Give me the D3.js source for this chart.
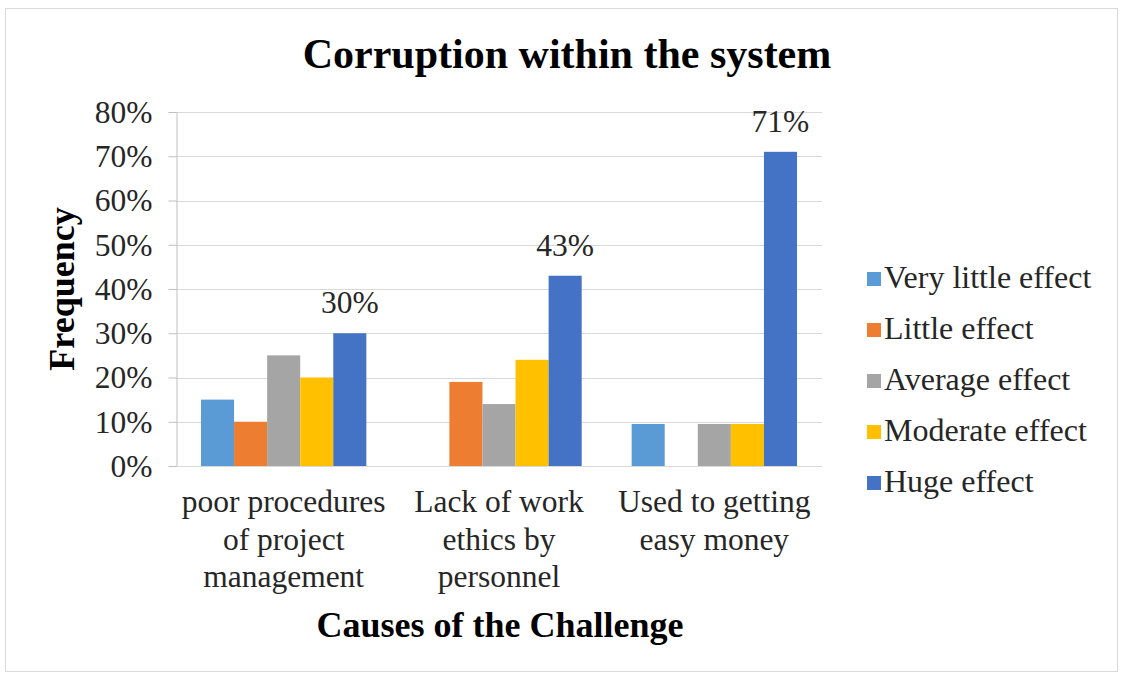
<!DOCTYPE html>
<html>
<head>
<meta charset="utf-8">
<script src="https://cdn.jsdelivr.net/npm/d3@7"></script>
<style>
  html, body { margin: 0; padding: 0; background: #fff; }
  svg { display: block; }
  text { font-family: "Liberation Serif", "Times New Roman", serif; }
</style>
</head>
<body>
<svg id="chart" width="1121" height="677"></svg>
<script>
// Causes along the x axis (each label split into its wrapped lines)
const categories = [
  "poor procedures of project management",
  "Lack of work ethics by personnel",
  "Used to getting easy money"
];
const categoryLines = [
  ["poor procedures", "of project", "management"],
  ["Lack of work", "ethics by", "personnel"],
  ["Used to getting", "easy money"]
];

// Effect levels (legend order)
const seriesNames = ["Very little effect", "Little effect", "Average effect", "Moderate effect", "Huge effect"];
const seriesColors = ["#5B9BD5", "#ED7D31", "#A5A5A5", "#FFC000", "#4472C4"];

// Share of responses per effect level, one array per level, in category order
const veryLittle = [0.15, 0.00, 0.095];
const little     = [0.10, 0.19, 0.00];
const average    = [0.25, 0.14, 0.095];
const moderate   = [0.20, 0.24, 0.095];
const huge       = [0.30, 0.43, 0.71];
const seriesValues = [veryLittle, little, average, moderate, huge];

// Only the "Huge effect" bars carry a value label
const labelledSeries = "Huge effect";

const yTicks = [0, 0.1, 0.2, 0.3, 0.4, 0.5, 0.6, 0.7, 0.8];

const svg = d3.select("#chart");
const W = 1121, H = 677;
const FS = 31.5; // body text size

// Chart frame
svg.append("rect")
  .attr("x", 5.5).attr("y", 8.5)
  .attr("width", W - 9).attr("height", H - 14)
  .attr("fill", "#fff")
  .attr("stroke", "#d9d9d9").attr("stroke-width", 1);

const plot = { left: 176, right: 822, top: 112, bottom: 466 };

const x0 = d3.scaleBand()
  .domain(categories)
  .range([plot.left, plot.right])
  .paddingInner(0.232)
  .paddingOuter(0.116);

const x1 = d3.scaleBand()
  .domain(seriesNames)
  .range([0, x0.bandwidth()])
  .padding(0);

const y = d3.scaleLinear()
  .domain([0, 0.8])
  .range([plot.bottom, plot.top]);

const color = d3.scaleOrdinal().domain(seriesNames).range(seriesColors);

// Horizontal gridlines
svg.append("g")
  .selectAll("line")
  .data(yTicks)
  .join("line")
  .attr("x1", plot.left).attr("x2", plot.right)
  .attr("y1", d => Math.round(y(d)) + 0.5)
  .attr("y2", d => Math.round(y(d)) + 0.5)
  .attr("stroke", "#d9d9d9")
  .attr("stroke-width", 1);

// Y axis
const yAxis = d3.axisLeft(y)
  .tickValues(yTicks)
  .tickFormat(d3.format(".0%"))
  .tickSizeInner(8)
  .tickSizeOuter(0)
  .tickPadding(16);

const yG = svg.append("g")
  .attr("transform", `translate(${plot.left + 0.5},0)`)
  .call(yAxis);
yG.select(".domain").attr("stroke", "#bfbfbf");
yG.selectAll(".tick line").attr("stroke", "#bfbfbf");
yG.selectAll(".tick text")
  .style("font-family", "'Liberation Serif', serif")
  .attr("font-size", FS)
  .attr("dy", "0.33em")
  .attr("fill", "#262626");

// Bars
const rows = categories.map((c, i) => ({
  category: c,
  values: seriesNames.map((s, j) => ({ series: s, value: seriesValues[j][i] }))
}));

const groups = svg.append("g")
  .selectAll("g")
  .data(rows)
  .join("g")
  .attr("transform", d => `translate(${x0(d.category)},0)`);

groups.selectAll("rect")
  .data(d => d.values)
  .join("rect")
  .attr("x", d => x1(d.series))
  .attr("y", d => y(d.value))
  .attr("width", x1.bandwidth())
  .attr("height", d => y(0) - y(d.value))
  .attr("fill", d => color(d.series));

// Value labels on the "Huge effect" bars
groups.selectAll("text.value")
  .data(d => d.values.filter(v => v.series === labelledSeries))
  .join("text")
  .attr("class", "value")
  .attr("x", d => x1(d.series) + x1.bandwidth() / 2)
  .attr("y", d => y(d.value) - 20)
  .attr("text-anchor", "middle")
  .attr("font-size", FS)
  .attr("fill", "#262626")
  .text(d => d3.format(".0%")(d.value));

// Category labels
const xLab = svg.append("g");
categories.forEach((c, i) => {
  const cx = x0(c) + x0.bandwidth() / 2;
  const t = xLab.append("text")
    .attr("x", cx)
    .attr("y", 512)
    .attr("text-anchor", "middle")
    .attr("font-size", FS)
    .attr("fill", "#262626");
  categoryLines[i].forEach((line, k) => {
    t.append("tspan")
      .attr("x", cx)
      .attr("dy", k === 0 ? 0 : 37.5)
      .text(line);
  });
});

// Title
svg.append("text")
  .attr("x", 567)
  .attr("y", 68)
  .attr("text-anchor", "middle")
  .attr("font-size", 42)
  .attr("font-weight", "bold")
  .attr("fill", "#000")
  .text("Corruption within the system");

// Axis titles
svg.append("text")
  .attr("x", 500)
  .attr("y", 637)
  .attr("text-anchor", "middle")
  .attr("font-size", 36)
  .attr("font-weight", "bold")
  .attr("fill", "#000")
  .text("Causes of the Challenge");

svg.append("text")
  .attr("transform", `translate(74,289) rotate(-90)`)
  .attr("text-anchor", "middle")
  .attr("font-size", 36)
  .attr("font-weight", "bold")
  .attr("fill", "#000")
  .text("Frequency");

// Legend
const legend = svg.append("g")
  .attr("transform", "translate(867,279)");
const item = legend.selectAll("g")
  .data(seriesNames)
  .join("g")
  .attr("transform", (d, i) => `translate(0,${i * 51})`);
item.append("rect")
  .attr("x", 0).attr("y", -7)
  .attr("width", 14).attr("height", 14)
  .attr("fill", d => color(d));
item.append("text")
  .attr("x", 17)
  .attr("y", 9)
  .attr("font-size", 32)
  .attr("fill", "#262626")
  .text(d => d);
</script>
</body>
</html>
